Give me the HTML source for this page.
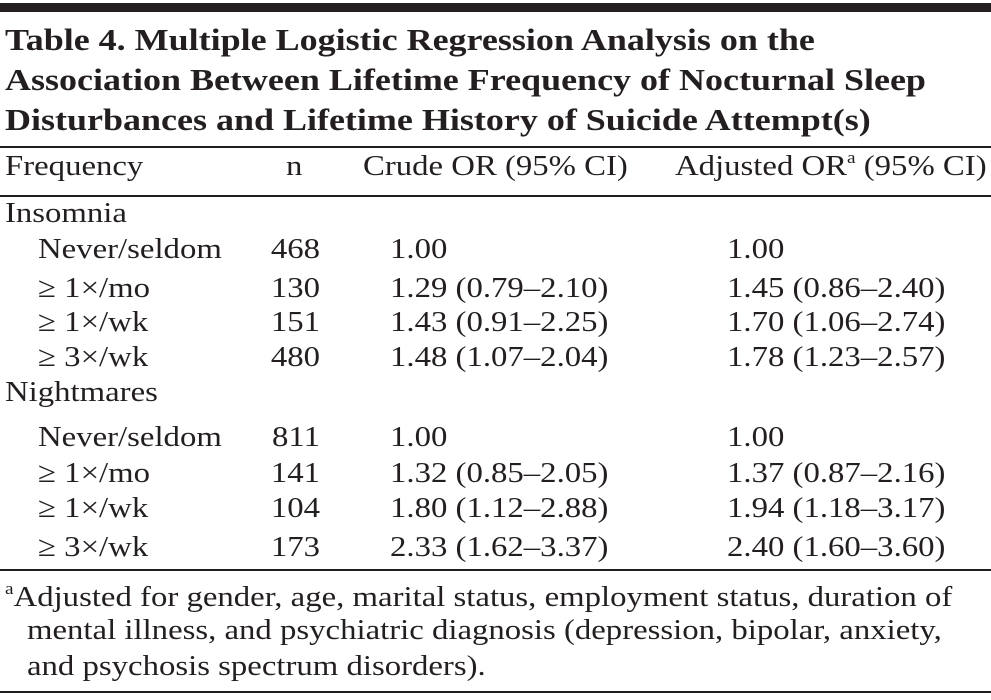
<!DOCTYPE html>
<html><head><meta charset="utf-8"><style>
html,body{margin:0;padding:0;background:#fff;}
body{width:991px;height:700px;position:relative;overflow:hidden;font-family:"Liberation Serif",serif;color:#231f20;}
.t{position:absolute;white-space:nowrap;font-size:29px;line-height:30px;transform:scaleX(1.13);transform-origin:0 0;}
.b{font-weight:bold;font-size:30.5px;transform:scaleX(1.18);}
.r{text-align:right;transform-origin:100% 0;}
.rule{position:absolute;left:0;width:991px;background:#231f20;}
sup{font-size:17px;vertical-align:top;line-height:17px;position:relative;top:-2px;}
</style></head><body>
<div class="rule" style="top:3px;height:9px"></div>
<div class="t b" style="left:5px;top:25px">Table 4. Multiple Logistic Regression Analysis on the</div>
<div class="t b" style="left:5px;top:65px">Association Between Lifetime Frequency of Nocturnal Sleep</div>
<div class="t b" style="left:5px;top:105px">Disturbances and Lifetime History of Suicide Attempt(s)</div>
<div class="rule" style="top:146px;height:2px"></div>
<div class="t" style="left:5px;top:151px">Frequency</div>
<div class="t" style="left:286px;top:151px">n</div>
<div class="t" style="left:363px;top:151px">Crude OR (95% CI)</div>
<div class="t" style="left:675px;top:151px">Adjusted OR<sup>a</sup> (95% CI)</div>
<div class="rule" style="top:195px;height:1.5px"></div>
<div id="rows"></div>
<div class="rule" style="top:569px;height:1.5px"></div>
<div class="t" style="left:5px;top:582px"><sup>a</sup>Adjusted for gender, age, marital status, employment status, duration of</div>
<div class="t" style="left:27px;top:615px">mental illness, and psychiatric diagnosis (depression, bipolar, anxiety,</div>
<div class="t" style="left:27px;top:651px">and psychosis spectrum disorders).</div>
<div class="rule" style="top:691px;height:2px"></div>
<script>
const labels=["Insomnia","Never/seldom","≥ 1×/mo","≥ 1×/wk","≥ 3×/wk","Nightmares","Never/seldom","≥ 1×/mo","≥ 1×/wk","≥ 3×/wk"];
const nVals=["","468","130","151","480","","811","141","104","173"];
const crude=["","1.00","1.29 (0.79–2.10)","1.43 (0.91–2.25)","1.48 (1.07–2.04)","","1.00","1.32 (0.85–2.05)","1.80 (1.12–2.88)","2.33 (1.62–3.37)"];
const adjusted=["","1.00","1.45 (0.86–2.40)","1.70 (1.06–2.74)","1.78 (1.23–2.57)","","1.00","1.37 (0.87–2.16)","1.94 (1.18–3.17)","2.40 (1.60–3.60)"];
const rowTops=[198,234,273,307,342,377,422,458,493,532];
const host=document.getElementById('rows');
labels.forEach((lab,i)=>{
  const group=(i===0||i===5);
  const a=document.createElement('div');a.className='t';
  
  
  a.style.left=(group?5:38)+'px';a.style.top=rowTops[i]+'px';a.textContent=lab;host.appendChild(a);
  if(nVals[i]){
    const n=document.createElement('div');n.className='t r';
    
    
    n.style.left='240px';n.style.width='80px';n.style.top=rowTops[i]+'px';n.textContent=nVals[i];host.appendChild(n);
  }
  if(crude[i]){
    const c=document.createElement('div');c.className='t';
    
    
    c.style.left='390px';c.style.top=rowTops[i]+'px';c.textContent=crude[i];host.appendChild(c);
  }
  if(adjusted[i]){
    const d=document.createElement('div');d.className='t';
    
    
    d.style.left='727px';d.style.top=rowTops[i]+'px';d.textContent=adjusted[i];host.appendChild(d);
  }
});
</script>
</body></html>
